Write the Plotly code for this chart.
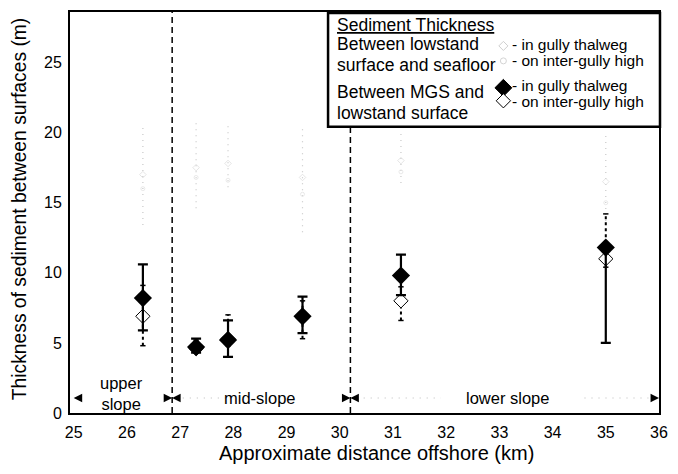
import plotly.graph_objects as go

# ---------------- data ----------------
x_pos = [26.3, 27.3, 27.9, 29.3, 31.15, 35.0]

# Between MGS and lowstand surface
gully_mgs = [8.2, 4.7, 5.2, 6.9, 9.8, 11.8]
gully_mgs_lo = [5.9, 4.3, 4.0, 5.7, 8.4, 5.0]
gully_mgs_hi = [10.6, 5.3, 6.6, 8.3, 11.3, 11.8]

high_mgs = [6.9, 4.6, 5.3, 6.8, 8.0, 11.0]
high_mgs_lo = [4.8, 4.4, 4.8, 5.3, 6.6, 10.4]
high_mgs_hi = [9.1, 5.2, 7.0, 8.0, 9.0, 14.2]

# Between lowstand surface and seafloor (faint grey)
low_top = [20.5, 20.7, 20.7, 20.4, 19.9, 19.8]
low_bot = [13.4, 14.6, 16.1, 12.9, 16.4, 13.7]
low_gully = [17.0, 17.5, 17.8, 16.8, 18.0, 16.5]
low_high = [16.0, 16.8, 16.6, 15.6, 17.2, 15.0]

# physiographic regions
region_bounds = [25.0, 26.85, 30.2, 36.0]
boundary_tops = [28.6, 20.5]
region_names = ["upper<br>slope", "mid-slope", "lower slope"]
region_label_x = [25.9, 28.5, 33.15]
region_label_y = [1.42, 1.1, 1.1]

x_ticks = [25, 26, 27, 28, 29, 30, 31, 32, 33, 34, 35, 36]
y_ticks = [0, 5, 10, 15, 20, 25]

legend_left = ["<u>Sediment Thickness</u>", "Between lowstand", "surface and seafloor",
               "Between MGS and", "lowstand surface"]
legend_right = ["- in gully thalweg", "- on inter-gully high",
                "- in gully thalweg", "- on inter-gully high"]

FONT = "Liberation Sans, Arial, Helvetica, sans-serif"
W, H = 678, 474
ML, MR, MT, MB = 70, 10, 11, 61
PW, PH = W - ML - MR, H - MT - MB


def pxx(px):
    return (px - ML) / PW


def pxy(py):
    return (H - MB - py) / PH


def segs(xs, lo, hi):
    X, Y = [], []
    for x, l, h in zip(xs, lo, hi):
        X += [x, x, None]
        Y += [l, h, None]
    return X, Y


def caps(xs, vals, half=0.05):
    X, Y = [], []
    for x, v in zip(xs, vals):
        X += [x - half, x + half, None]
        Y += [v, v, None]
    return X, Y


fig = go.Figure()

# grey lowstand-to-seafloor ranges
gx, gy = segs(x_pos, low_bot, low_top)
fig.add_trace(go.Scatter(x=gx, y=gy, mode="lines",
                         line=dict(color="#c8c8c8", width=1.2, dash="1px,5px"),
                         hoverinfo="skip", showlegend=False))
fig.add_trace(go.Scatter(x=x_pos, y=low_gully, mode="markers",
                         marker=dict(symbol="diamond-open", size=5, color="#dadada",
                                     line=dict(width=0.7)),
                         showlegend=False))
fig.add_trace(go.Scatter(x=x_pos, y=low_high, mode="markers",
                         marker=dict(symbol="circle-open", size=4, color="#e0e0e0",
                                     line=dict(width=0.7)),
                         showlegend=False))

# region boundary dashed lines
bx, by = segs(region_bounds[1:3], [0, 0], boundary_tops)
fig.add_trace(go.Scatter(x=bx, y=by, mode="lines",
                         line=dict(color="black", width=1.5, dash="6px,4px"),
                         hoverinfo="skip", showlegend=False))

# faint dotted region guide lines
guide_x = [27.05, 27.85, None, 30.45, 31.9, None, 34.6, 35.8]
guide_y = [1.07, 1.07, None, 1.07, 1.07, None, 1.07, 1.07]
fig.add_trace(go.Scatter(x=guide_x, y=guide_y, mode="lines",
                         line=dict(color="#bbbbbb", width=1, dash="1px,6px"),
                         hoverinfo="skip", showlegend=False))

# inter-gully high dotted error bars
hx, hy = segs(x_pos, high_mgs_lo, high_mgs_hi)
fig.add_trace(go.Scatter(x=hx, y=hy, mode="lines",
                         line=dict(color="black", width=2, dash="3px,3px"),
                         hoverinfo="skip", showlegend=False))
cx, cy = caps(x_pos * 2, high_mgs_lo + high_mgs_hi, 0.05)
fig.add_trace(go.Scatter(x=cx, y=cy, mode="lines",
                         line=dict(color="black", width=1.5),
                         hoverinfo="skip", showlegend=False))

# hollow diamonds (inter-gully high) - drawn below the black ones
fig.add_trace(go.Scatter(
    x=x_pos, y=high_mgs, mode="markers",
    marker=dict(symbol="diamond", size=11, color="white",
                line=dict(color="black", width=1)),
    showlegend=False))

# gully thalweg solid error bars + black diamonds
fig.add_trace(go.Scatter(
    x=x_pos, y=gully_mgs, mode="markers",
    marker=dict(symbol="diamond", size=14, color="black"),
    error_y=dict(type="data", symmetric=False,
                 array=[h - v for h, v in zip(gully_mgs_hi, gully_mgs)],
                 arrayminus=[v - l for v, l in zip(gully_mgs, gully_mgs_lo)],
                 color="black", thickness=2.2, width=5),
    showlegend=False))

# legend glyphs on an overlay axis in paper-like units
legend_glyphs = [
    (45, "diamond-open", 7, "#cfcfcf", "#cfcfcf"),
    (60, "circle-open", 6, "#d4d4d4", "#d4d4d4"),
    (87, "diamond", 13, "#000000", "#000000"),
    (100, "diamond", 11, "#ffffff", "#000000"),
]
for py, sym, sz, fc, lc in legend_glyphs:
    fig.add_trace(go.Scatter(
        x=[pxx(510)], y=[pxy(py)], xaxis="x2", yaxis="y2", mode="markers",
        marker=dict(symbol=sym, size=sz, color=fc, line=dict(color=lc, width=1)),
        cliponaxis=False, showlegend=False, hoverinfo="skip"))

annotations = []
# region labels
for name, lx, ly in zip(region_names, region_label_x, region_label_y):
    annotations.append(dict(x=lx, y=ly, xref="x", yref="y", text=name,
                            showarrow=False, font=dict(family=FONT, size=16.5, color="black"),
                            yanchor="middle"))
# arrowheads at region bounds
arrow_specs = [(region_bounds[0], 9), (region_bounds[1], -9), (region_bounds[1], 9),
               (region_bounds[2], -9), (region_bounds[2], 9), (region_bounds[3], -9)]
for tip, off in arrow_specs:
    annotations.append(dict(x=tip, y=1.07, xref="x", yref="y", ax=off, ay=0,
                            showarrow=True, arrowhead=2, arrowsize=1.3, arrowwidth=1.3,
                            arrowcolor="black", text=""))

# legend box texts
for t, py in zip(legend_left, [24, 43, 64, 91, 112]):
    annotations.append(dict(x=pxx(339), y=pxy(py), xref="paper", yref="paper",
                            text=t, showarrow=False, xanchor="left", yanchor="middle",
                            font=dict(family=FONT, size=17.5, color="black")))
for t, py in zip(legend_right, [44, 59.5, 85, 100.5]):
    annotations.append(dict(x=pxx(518), y=pxy(py), xref="paper", yref="paper",
                            text=t, showarrow=False, xanchor="left", yanchor="middle",
                            borderpad=0,
                            font=dict(family=FONT, size=15.5, color="black")))

# axis titles
annotations.append(dict(x=pxx(381), y=pxy(453), xref="paper", yref="paper",
                        text="Approximate distance offshore (km)", showarrow=False,
                        yanchor="middle", font=dict(family=FONT, size=20, color="black")))
annotations.append(dict(x=pxx(19), y=pxy(208), xref="paper", yref="paper",
                        text="Thickness of sediment between surfaces (m)", showarrow=False,
                        textangle=-90, xanchor="center", yanchor="middle",
                        font=dict(family=FONT, size=19.3, color="black")))

shapes = [dict(type="rect", xref="paper", yref="paper",
               x0=pxx(332), x1=pxx(669), y0=pxy(126), y1=pxy(12),
               line=dict(color="black", width=2.5), fillcolor="white", layer="below")]

fig.update_layout(
    width=W, height=H,
    margin=dict(l=ML, r=MR, t=MT, b=MB),
    plot_bgcolor="rgba(0,0,0,0)", paper_bgcolor="white",
    font=dict(family=FONT, size=16, color="black"),
    showlegend=False,
    annotations=annotations,
    shapes=shapes,
    xaxis=dict(range=[24.93, 36.0], tickvals=x_ticks, ticktext=[str(v) for v in x_ticks],
               showgrid=False, zeroline=False, showline=True, linecolor="black",
               linewidth=2, mirror=True, ticks="outside", ticklen=4,
               tickcolor="rgba(0,0,0,0)", tickfont=dict(family=FONT, size=16)),
    yaxis=dict(range=[0, 28.6], tickvals=y_ticks, ticktext=[str(v) for v in y_ticks],
               showgrid=False, zeroline=False, showline=True, linecolor="black",
               linewidth=2, mirror=True, ticks="outside", ticklen=3,
               tickcolor="rgba(0,0,0,0)", tickfont=dict(family=FONT, size=16)),
    xaxis2=dict(range=[0, 1], overlaying="x", visible=False, fixedrange=True),
    yaxis2=dict(range=[0, 1], overlaying="y", visible=False, fixedrange=True),
)

fig.write_html("out.html",
               config={"displayModeBar": False, "staticPlot": True},
               post_script="document.body.style.margin='0';document.body.style.overflow='hidden';")
